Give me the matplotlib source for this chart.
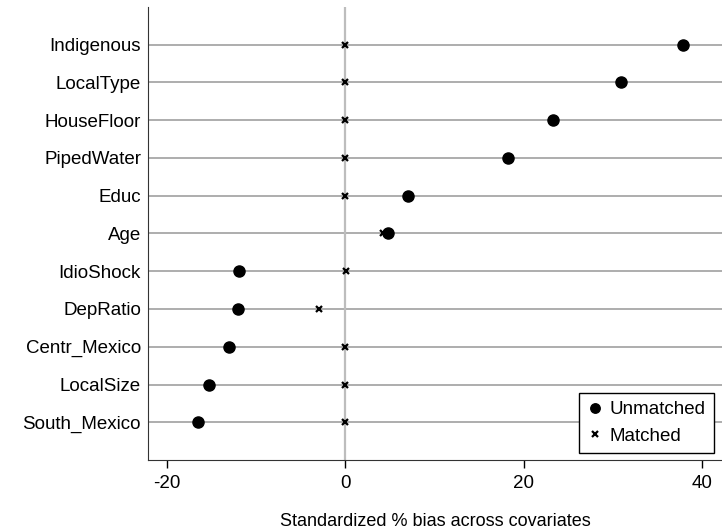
import matplotlib.pyplot as plt

plt.rcParams['font.family'] = ['Liberation Sans', 'DejaVu Sans']

# covariates, top to bottom
covariates = ['Indigenous', 'LocalType', 'HouseFloor', 'PipedWater', 'Educ', 'Age',
              'IdioShock', 'DepRatio', 'Centr_Mexico', 'LocalSize', 'South_Mexico']
unmatched = [37.85, 30.86, 23.27, 18.19, 7.05, 4.8, -11.93, -12.04, -13.05, -15.29, -16.49]
matched = [0.0, 0.0, 0.0, 0.0, 0.0, 4.2, 0.05, -3.0, 0.0, 0.0, 0.0]
xticks = [-20, 0, 20, 40]

n = len(covariates)
ypos = list(range(n, 0, -1))

fig = plt.figure(figsize=(7.22, 5.30), dpi=100)
ax = fig.add_axes([0.205, 0.132, 0.795, 0.855])

# horizontal guide lines for each covariate
for y in ypos:
    ax.axhline(y, color='#a0a0a0', lw=1.2, zorder=1)
ax.axvline(0, color='#bdbdbd', lw=1.6, zorder=1)

ax.plot(unmatched, ypos, 'o', color='black', markersize=8, ls='none',
        label='Unmatched', zorder=3)
ax.plot(matched, ypos, 'x', color='black', markersize=5, mew=1.6, ls='none',
        label='Matched', zorder=3)

ax.set_xlim(-22.13, 42.2)
ax.set_ylim(0, n + 1)
ax.set_yticks(ypos)
ax.set_yticklabels(covariates, fontsize=13.5)
ax.set_xticks(xticks)
ax.set_xticklabels([str(t) for t in xticks], fontsize=13.5)
ax.tick_params(axis='y', length=0, pad=5)
ax.tick_params(axis='x', length=6, width=1, pad=5)

ax.spines['top'].set_visible(False)
ax.spines['right'].set_visible(False)
ax.spines['left'].set_color('#333333')
ax.spines['bottom'].set_color('#333333')

ax.set_xlabel('Standardized % bias across covariates', fontsize=13, labelpad=15)

leg = ax.legend(loc='lower right', bbox_to_anchor=(0.986, 0.0155), fontsize=13.5,
                frameon=True, fancybox=False, edgecolor='black', framealpha=1,
                handletextpad=0.3, handlelength=0.9, borderpad=0.45,
                labelspacing=0.5, markerscale=0.85, borderaxespad=0)
leg.get_frame().set_linewidth(1.0)

fig.savefig('out.png', dpi=100)
